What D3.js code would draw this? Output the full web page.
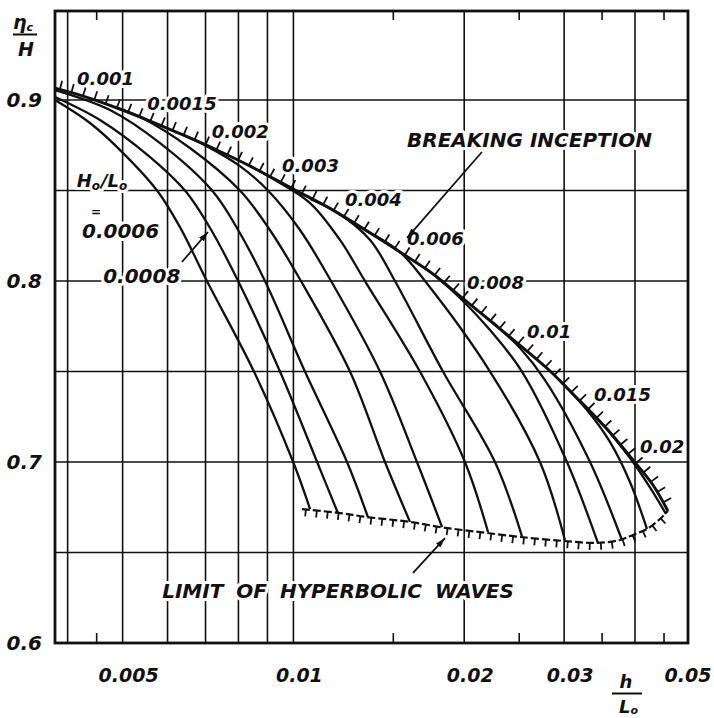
<!DOCTYPE html>
<html>
<head>
<meta charset="UTF-8">
<title>Breaking inception</title>
<script src="https://d3js.org/d3.v7.min.js"></script>
<style>
    body { margin: 0; background: #fff; }
    text { font-family: "DejaVu Sans", sans-serif; font-weight: bold; font-style: italic; fill: #111; }
    text.bg { fill: #fff; stroke: #fff; stroke-width: 6px; stroke-linejoin: round; }
</style>
</head>
<body>
<svg id="chart"></svg>
<script>
// axis ticks and grid
var xTicks = [0.005, 0.01, 0.02, 0.03, 0.05];
var yTicks = [0.6, 0.7, 0.8, 0.9];
var xGrid = [0.004, 0.005, 0.006, 0.007, 0.008, 0.009, 0.01, 0.02, 0.03, 0.04];
var xMinor = [0.0045, 0.015, 0.025, 0.035, 0.045];
var yGrid = [0.65, 0.7, 0.75, 0.8, 0.85, 0.9];

// breaking inception envelope (h/Lo, eta/H)
var breakX = [0.0038, 0.00426, 0.00489, 0.00559, 0.00639, 0.00733, 0.00839, 0.00999, 0.01174, 0.01348, 0.01541,
              0.01762, 0.01966, 0.02248, 0.0258, 0.02833, 0.03135, 0.0357, 0.03967, 0.04303, 0.04572];
var breakY = [0.9066, 0.9022, 0.8956, 0.8884, 0.8807, 0.8724, 0.8635, 0.8508, 0.8392, 0.8276, 0.816,
              0.8039, 0.7917, 0.7768, 0.7613, 0.7503, 0.7365, 0.7182, 0.7011, 0.6873, 0.6729];

// limit of hyperbolic waves
var hypX = [0.01035, 0.01208, 0.01348, 0.01605, 0.01813, 0.0199, 0.02193, 0.02508, 0.02986, 0.03428,
            0.03763, 0.03967, 0.04199, 0.04426, 0.04572];
var hypY = [0.674, 0.6718, 0.6696, 0.6669, 0.6641, 0.6624, 0.6608, 0.6586, 0.6564, 0.6553,
            0.6569, 0.6597, 0.663, 0.6685, 0.6729];

// curves of constant Ho/Lo : [h/Lo, eta/H]
var s0006 = [[0.0038, 0.900], [0.00438, 0.8873], [0.00501, 0.8707], [0.00575, 0.850], [0.00631, 0.8298],
             [0.00704, 0.800], [0.00852, 0.750], [0.00999, 0.700], [0.0107, 0.674]];
var s0008 = [[0.0038, 0.9017], [0.00456, 0.889], [0.00559, 0.8685], [0.00644, 0.850], [0.00713, 0.8293],
             [0.00799, 0.800], [0.00947, 0.750], [0.01101, 0.700], [0.01198, 0.6718]];
var s001 = [[0.0038, 0.9055], [0.00475, 0.8945], [0.00582, 0.8762], [0.00719, 0.850], [0.00799, 0.8282],
            [0.00891, 0.800], [0.01048, 0.750], [0.01243, 0.700], [0.01353, 0.6696]];
var s0015 = [[0.00489, 0.8956], [0.00537, 0.8906], [0.00657, 0.8735], [0.00805, 0.850], [0.00909, 0.8282],
             [0.01031, 0.800], [0.01258, 0.750], [0.0145, 0.700], [0.01605, 0.6669]];
var s002 = [[0.00639, 0.8807], [0.00698, 0.8751], [0.00805, 0.8635], [0.00902, 0.850], [0.01027, 0.8282],
            [0.01165, 0.800], [0.01421, 0.750], [0.01651, 0.700], [0.01828, 0.6641]];
var s003 = [[0.00839, 0.8635], [0.00928, 0.8558], [0.0107, 0.8431], [0.01208, 0.8227], [0.01337, 0.800],
            [0.01671, 0.750], [0.02006, 0.700], [0.02203, 0.6613]];
var s004 = [[0.0107, 0.8453], [0.01198, 0.8376], [0.01365, 0.8227], [0.0151, 0.800], [0.01835, 0.750],
            [0.02266, 0.700], [0.02528, 0.6591]];
var s006 = [[0.01348, 0.8276], [0.01541, 0.816], [0.01706, 0.800], [0.02221, 0.750], [0.0272, 0.700],
            [0.0301, 0.6569]];
var s008 = [[0.01762, 0.8039], [0.01966, 0.7906], [0.02221, 0.7729], [0.02528, 0.750], [0.03035, 0.700],
            [0.03442, 0.6552]];
var s01 = [[0.02248, 0.7768], [0.02508, 0.763], [0.02776, 0.7453], [0.03333, 0.700], [0.03794, 0.6569]];
var s015 = [[0.0295, 0.7448], [0.03292, 0.7287], [0.03613, 0.7111], [0.03919, 0.689], [0.04199, 0.663]];
var s02 = [[0.0357, 0.7182], [0.03967, 0.700], [0.04267, 0.6851], [0.04536, 0.6713]];

var steepCurves = [s0006, s0008, s001, s0015, s002, s003, s004, s006, s008, s01, s015, s02];
var steepNames = ["0.0006", "0.0008", "0.001", "0.0015", "0.002", "0.003", "0.004", "0.006", "0.008", "0.01", "0.015", "0.02"];
// where each name sits along the breaking curve (h/Lo)
var labelAt = [null, null, 0.00404, 0.00537, 0.00698, 0.00928, 0.01198, 0.01541, 0.01966, 0.02508, 0.03292, 0.03967];

(function() {
    var width = 714, height = 718;
    var svg = d3.select("#chart").attr("width", width).attr("height", height);

    var x = d3.scaleLog().domain([0.0038, 0.0496]).range([55, 688]);
    var y = d3.scaleLinear().domain([0.6, 0.9492]).range([643, 11]);
    var top = y(0.9492), bottom = y(0.6), left = x(0.0038), right = x(0.0496);

    var line = d3.line()
        .x(function(d) { return x(d[0]); })
        .y(function(d) { return y(d[1]); })
        .curve(d3.curveCatmullRom.alpha(0.5));

    // breaking curve height at a given h/Lo
    function breakAt(v) {
        var i = d3.bisectLeft(breakX, v);
        if (i <= 0) return breakY[0];
        var t = (Math.log(v) - Math.log(breakX[i - 1])) / (Math.log(breakX[i]) - Math.log(breakX[i - 1]));
        return breakY[i - 1] + t * (breakY[i] - breakY[i - 1]);
    }

    // grid
    var grid = svg.append("g").attr("stroke", "#111").attr("stroke-width", 1.6);
    grid.selectAll(".vx").data(xGrid).join("line")
        .attr("x1", function(d) { return x(d); }).attr("x2", function(d) { return x(d); })
        .attr("y1", top).attr("y2", bottom);
    grid.selectAll(".hy").data(yGrid).join("line")
        .attr("class", "hy")
        .attr("x1", left).attr("x2", right)
        .attr("y1", function(d) { return y(d); }).attr("y2", function(d) { return y(d); });
    grid.selectAll(".mt").data(xMinor).join("line")
        .attr("class", "mt")
        .attr("x1", function(d) { return x(d); }).attr("x2", function(d) { return x(d); })
        .attr("y1", top).attr("y2", top + 9);
    grid.selectAll(".mb").data(xMinor).join("line")
        .attr("class", "mb")
        .attr("x1", function(d) { return x(d); }).attr("x2", function(d) { return x(d); })
        .attr("y1", bottom).attr("y2", bottom - 10);

    // labels that cut the grid: a white copy underneath, then the text
    var labBg = svg.append("g"), lab = svg.append("g");
    function label(px, py, size, fill) {
        [labBg, lab].forEach(function(g, k) {
            var t = g.append("text").attr("x", px).attr("y", py).attr("font-size", size);
            if (k === 0) t.attr("class", "bg");
            fill(t);
        });
    }
    function plain(s) { return function(t) { t.text(s); }; }

    labelAt.forEach(function(v, i) {
        if (v === null) return;
        label(x(v) + 7, y(breakAt(v)) - 7, 18, plain(steepNames[i]));
    });
    label(x(0.00415), y(0.852), 18, function(t) {
        t.append("tspan").text("H");
        t.append("tspan").attr("font-size", 12).attr("dy", 3).text("o");
        t.append("tspan").attr("dy", -3).attr("dx", 1).text("/L");
        t.append("tspan").attr("font-size", 12).attr("dy", 3).text("o");
    });
    label(x(0.0044), y(0.836), 12, plain("="));
    label(x(0.00424), y(0.8238), 20, plain(steepNames[0]));
    label(x(0.00462), y(0.7989), 20, plain(steepNames[1]));
    label(x(0.01586), y(0.874), 20, plain("BREAKING INCEPTION"));
    label(x(0.00587), y(0.6249), 20, function(t) {
        t.attr("word-spacing", 6).text("LIMIT OF HYPERBOLIC WAVES");
    });

    // arrows
    var defs = svg.append("defs");
    defs.append("marker").attr("id", "arr").attr("viewBox", "0 0 10 6")
        .attr("refX", 10).attr("refY", 3).attr("markerWidth", 10).attr("markerHeight", 6)
        .attr("markerUnits", "userSpaceOnUse").attr("orient", "auto")
        .append("path").attr("d", "M0,0 L10,3 L0,6 Z").attr("fill", "#111");
    var lead = svg.append("g").attr("stroke", "#111").attr("stroke-width", 1.8);
    [[0.02149, 0.8713, 0.01586, 0.8238], [0.01625, 0.6387, 0.0185, 0.658], [0.00636, 0.8105, 0.00707, 0.8271]]
        .forEach(function(a) {
            lead.append("line").attr("x1", x(a[0])).attr("y1", y(a[1]))
                .attr("x2", x(a[2])).attr("y2", y(a[3])).attr("marker-end", "url(#arr)");
        });

    // curves of constant steepness
    svg.append("g").selectAll("path").data(steepCurves).join("path")
        .attr("d", line).attr("fill", "none").attr("stroke", "#111").attr("stroke-width", 2.3);

    function hatch(node, step, start, len, side) {
        var total = node.getTotalLength(), out = [];
        for (var s = start; s < total; s += step) {
            var p = node.getPointAtLength(s);
            var a = node.getPointAtLength(Math.max(0, s - 1));
            var b = node.getPointAtLength(Math.min(total, s + 1));
            var dx = b.x - a.x, dy = b.y - a.y, n = Math.hypot(dx, dy);
            out.push([p.x, p.y, p.x + side * dy / n * len, p.y - side * dx / n * len]);
        }
        return out;
    }

    // breaking inception
    var bp = svg.append("path").datum(d3.zip(breakX, breakY))
        .attr("d", line).attr("fill", "none").attr("stroke", "#111").attr("stroke-width", 3);
    svg.append("g").attr("stroke", "#111").attr("stroke-width", 1.8)
        .selectAll("line").data(hatch(bp.node(), 12, 5, 9, 1)).join("line")
        .attr("x1", function(d) { return d[0]; }).attr("y1", function(d) { return d[1]; })
        .attr("x2", function(d) { return d[2]; }).attr("y2", function(d) { return d[3]; });

    // hyperbolic limit
    var hp = svg.append("path").datum(d3.zip(hypX, hypY))
        .attr("d", line).attr("fill", "none").attr("stroke", "#111").attr("stroke-width", 2.2)
        .attr("stroke-dasharray", "8,3");
    svg.append("g").attr("stroke", "#111").attr("stroke-width", 1.8)
        .selectAll("line").data(hatch(hp.node(), 11, 4, 7, -1)).join("line")
        .attr("x1", function(d) { return d[0]; }).attr("y1", function(d) { return d[1]; })
        .attr("x2", function(d) { return d[2]; }).attr("y2", function(d) { return d[3]; });

    // frame
    svg.append("rect").attr("x", left).attr("y", top)
        .attr("width", right - left).attr("height", bottom - top)
        .attr("fill", "none").attr("stroke", "#111").attr("stroke-width", 2.8);

    // tick labels
    svg.append("g").selectAll("text").data(yTicks).join("text")
        .attr("x", left - 13).attr("y", function(d) { return y(d) + 7; })
        .attr("text-anchor", "end").attr("font-size", 20)
        .text(function(d) { return d3.format(".1f")(d); });
    svg.append("g").selectAll("text").data(xTicks).join("text")
        .attr("x", function(d) { return Math.min(x(d) + 6, right); }).attr("y", bottom + 39)
        .attr("text-anchor", "middle").attr("font-size", 19)
        .text(function(d) { return String(d); });

    // axis titles
    var yt = svg.append("g");
    var eta = yt.append("text").attr("x", 13).attr("y", 29).attr("font-size", 19);
    eta.append("tspan").text("η");
    eta.append("tspan").attr("font-size", 11).attr("dy", 2).text("c");
    yt.append("line").attr("x1", 13).attr("x2", 37).attr("y1", 34.5).attr("y2", 34.5)
        .attr("stroke", "#111").attr("stroke-width", 2);
    yt.append("text").attr("x", 26).attr("y", 56).attr("text-anchor", "middle").attr("font-size", 19).text("H");

    var xt = svg.append("g");
    xt.append("text").attr("x", 626).attr("y", 688).attr("text-anchor", "middle").attr("font-size", 18).text("h");
    xt.append("line").attr("x1", 612).attr("x2", 642).attr("y1", 693.5).attr("y2", 693.5)
        .attr("stroke", "#111").attr("stroke-width", 2);
    var lo = xt.append("text").attr("x", 619).attr("y", 713).attr("font-size", 18);
    lo.append("tspan").text("L");
    lo.append("tspan").attr("font-size", 11).attr("dy", 1).text("o");
})();
</script>
</body>
</html>
